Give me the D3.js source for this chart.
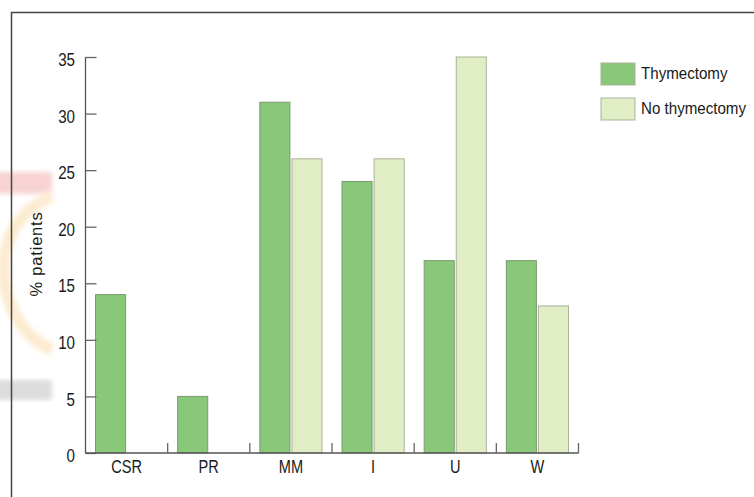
<!DOCTYPE html>
<html><head><meta charset="utf-8">
<script src="https://cdn.jsdelivr.net/npm/d3@7"></script>
<style>
body{margin:0;background:#fff;}
svg{display:block;font-family:"Liberation Sans",Arial,sans-serif;}
</style></head>
<body><svg id="c" width="754" height="497"></svg>
<script>
const categories = ["CSR","PR","MM","I","U","W"];
const seriesNames = ["Thymectomy","No thymectomy"];
const thymectomy = [14,5,31,24,17,17];
const noThymectomy = [0,0,26,26,35,13];
const yTicks = [0,5,10,15,20,25,30,35];
const colors = ["#88c878","#e1edc4"];

(function(){
const svg = d3.select("#c");
const mLeft = 85.5, mRight = 578.5, mTop = 57, mBottom = 453;

// decorative faint watermark artifacts on the left edge
const defs = svg.append("defs");
defs.append("filter").attr("id","bl").append("feGaussianBlur").attr("stdDeviation",2.5);
const deco = svg.append("g");
deco.append("rect").attr("x",-5).attr("y",172).attr("width",57).attr("height",22).attr("fill","#f7d3d3").attr("filter","url(#bl)");
deco.append("path").attr("d","M52,196 C10,215 0,250 5,285 C12,320 30,340 52,350")
  .attr("fill","none").attr("stroke","#fcebd0").attr("stroke-width",12).attr("filter","url(#bl)");
deco.append("rect").attr("x",-5).attr("y",380).attr("width",57).attr("height",20).attr("fill","#dcdcdc").attr("filter","url(#bl)");

// frame
svg.append("path").attr("d","M11.5,497 V12.5 H754").attr("fill","none").attr("stroke","#444").attr("stroke-width",1.5);

const x0 = d3.scaleBand().domain(categories).range([mLeft,mRight]).padding(0);
const x1 = d3.scaleBand().domain(seriesNames).range([10, x0.bandwidth()-10]).paddingInner(2/32).paddingOuter(0);
const y = d3.scaleLinear().domain([0,35]).range([mBottom,mTop]);

const data = categories.map((c,i)=>({cat:c, vals:[thymectomy[i], noThymectomy[i]]}));

const g = svg.append("g");
data.forEach(d=>{
  d.vals.forEach((v,j)=>{
    if(v<=0) return;
    g.append("rect")
      .attr("x", x0(d.cat)+x1(seriesNames[j]))
      .attr("y", y(v))
      .attr("width", x1.bandwidth())
      .attr("height", y(0)-y(v))
      .attr("fill", colors[j])
      .attr("stroke", j===0 ? "#7a9a70" : "#a9b39a")
      .attr("stroke-width",1);
  });
});

function txt(parent, x, yy, s, size, anchor, sx, rot){
  return parent.append("text")
    .attr("transform", `translate(${x},${yy})` + (rot?` rotate(${rot})`:"") + ` scale(${sx},1)`)
    .attr("text-anchor", anchor).attr("font-size", size).attr("fill","#1a1a1a").text(s);
}

// y axis (ticks pointing right)
const yAxis = svg.append("g").attr("transform",`translate(${mLeft},0)`)
  .call(d3.axisRight(y).tickValues(yTicks).tickSize(11).tickFormat(d3.format("d")));
yAxis.select(".domain").attr("stroke","#555").attr("stroke-width",1.3).attr("d",`M0,${mTop}V${mBottom}`);
yAxis.selectAll(".tick line").attr("stroke","#666").attr("stroke-width",1.3);
yAxis.selectAll(".tick text").attr("x",0).attr("dy",null).attr("y",0)
  .attr("transform",`translate(-10.5,8.6) scale(0.82,1)`)
  .attr("text-anchor","end").attr("font-size",18.5)
  .attr("font-family","'Liberation Sans',Arial,sans-serif").attr("fill","#1a1a1a");

// x axis: ticks at band boundaries pointing up
const xAxis = svg.append("g").attr("transform",`translate(0,${mBottom})`);
xAxis.append("line").attr("x1",mLeft).attr("x2",mRight).attr("stroke","#555").attr("stroke-width",1.3);
categories.forEach(c=>{
  xAxis.append("line").attr("x1",x0(c)+x0.bandwidth()).attr("x2",x0(c)+x0.bandwidth())
    .attr("y1",0).attr("y2",-10).attr("stroke","#666").attr("stroke-width",1.3);
  txt(xAxis, x0(c)+x0.bandwidth()/2, 20.3, c, 17.8, "middle", 0.82);
});

// y label
txt(svg, 42, 254, "% patients", 16.5, "middle", 1, -90).attr("letter-spacing", 0.8);

// legend
const leg = svg.append("g");
seriesNames.forEach((s,i)=>{
  leg.append("rect").attr("x",601).attr("y",63+i*35).attr("width",34).attr("height",22)
    .attr("fill",colors[i]).attr("stroke","#a9b39a").attr("stroke-width",1);
  txt(leg, 641, 78.5+i*35, s, 17, "start", 0.89);
});
})();
</script></body></html>
